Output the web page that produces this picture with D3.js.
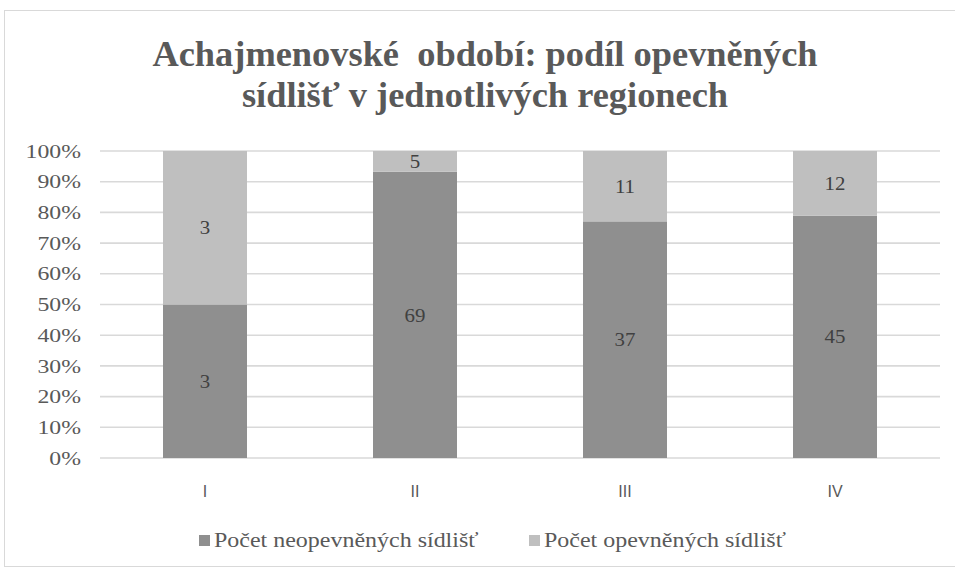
<!DOCTYPE html>
<html><head><meta charset="utf-8">
<script src="https://cdn.jsdelivr.net/npm/d3@7"></script>
<style>body{margin:0;background:#fff}</style>
</head><body>
<svg id="c" width="955" height="568"></svg>
<script>
const categories = ["I","II","III","IV"];
const seriesNames = ["Počet neopevněných sídlišť","Počet opevněných sídlišť"];
const unfortified = [3,69,37,45];
const fortified = [3,5,11,12];
const yTicks = [0,0.1,0.2,0.3,0.4,0.5,0.6,0.7,0.8,0.9,1];
const colors = ["#8f8f8f","#bfbfbf"];
const titleLines = ["Achajmenovské  období: podíl opevněných","sídlišť v jednotlivých regionech"];

const svg = d3.select("#c");
svg.append("rect").attr("x",4.5).attr("y",10.5).attr("width",955).attr("height",556)
  .attr("fill","#fff").attr("stroke","#d9d9d9");

const serif = "Liberation Serif";
const sans = "Liberation Sans";
function stretch(sel, ax, sx){ sel.attr("transform", d => { const x = typeof ax === "function" ? ax(d) : ax; return `translate(${x},0) scale(${sx},1) translate(${-x},0)`; }); }

const t = svg.append("text").attr("text-anchor","middle").attr("fill","#595959")
  .style("font-family",serif).style("font-weight","bold").style("font-size","35px")
  .style("white-space","pre");
titleLines.forEach((l,i)=>t.append("tspan").attr("x",485).attr("y",66+i*41).text(l));
stretch(t,485,1.04);

const x = d3.scaleBand().domain(categories).range([100,940]).paddingInner(0.6).paddingOuter(0.3);
const y = d3.scaleLinear().domain([0,1]).range([458,151]);

const rows = categories.map((c,i)=>({cat:c, a:unfortified[i], b:fortified[i]}));
const stack = d3.stack().keys(["a","b"]).offset(d3.stackOffsetExpand)(rows);

// grid
svg.append("g").selectAll("line").data(yTicks).join("line")
  .attr("x1",100).attr("x2",940).attr("y1",d=>y(d)).attr("y2",d=>y(d))
  .attr("stroke","#d9d9d9").attr("stroke-width",1.6);

// y labels
const yl = svg.append("g").selectAll("text").data(yTicks).join("text")
  .attr("x",81).attr("y",d=>y(d)).attr("dy","0.35em").attr("text-anchor","end")
  .attr("fill","#595959").style("font-family",serif).style("font-size","19px")
  .text(d=>d3.format(".0%")(d));
stretch(yl,81,1.25);

// bars
stack.forEach((s,k)=>{
  const g = svg.append("g");
  g.selectAll("rect").data(s).join("rect")
    .attr("x",d=>x(d.data.cat)).attr("width",x.bandwidth())
    .attr("y",d=>y(d[1])).attr("height",d=>y(d[0])-y(d[1]))
    .attr("fill",colors[k]);
  const lab = g.selectAll("text").data(s).join("text")
    .attr("x",d=>x(d.data.cat)+x.bandwidth()/2)
    .attr("y",d=>(y(d[0])+y(d[1]))/2).attr("dy","0.35em")
    .attr("text-anchor","middle").attr("fill","#404040")
    .style("font-family",serif).style("font-size","19px")
    .text(d=>d.data[k===0?"a":"b"]);
  stretch(lab, d=>x(d.data.cat)+x.bandwidth()/2, 1.1);
});

// x labels
svg.append("g").selectAll("text").data(categories).join("text")
  .attr("x",d=>x(d)+x.bandwidth()/2).attr("y",497).attr("text-anchor","middle")
  .attr("fill","#595959").style("font-family",sans).style("font-size","16px")
  .text(d=>d);

// legend
const lx = [199,529];
seriesNames.forEach((n,i)=>{
  svg.append("rect").attr("x",lx[i]).attr("y",535).attr("width",11).attr("height",11).attr("fill",colors[i]);
  const lt = svg.append("text").attr("x",lx[i]+15).attr("y",547).attr("fill","#595959")
    .style("font-family",serif).style("font-size","22px").text(n);
  stretch(lt, lx[i]+15, 1.09);
});
</script>
</body></html>
